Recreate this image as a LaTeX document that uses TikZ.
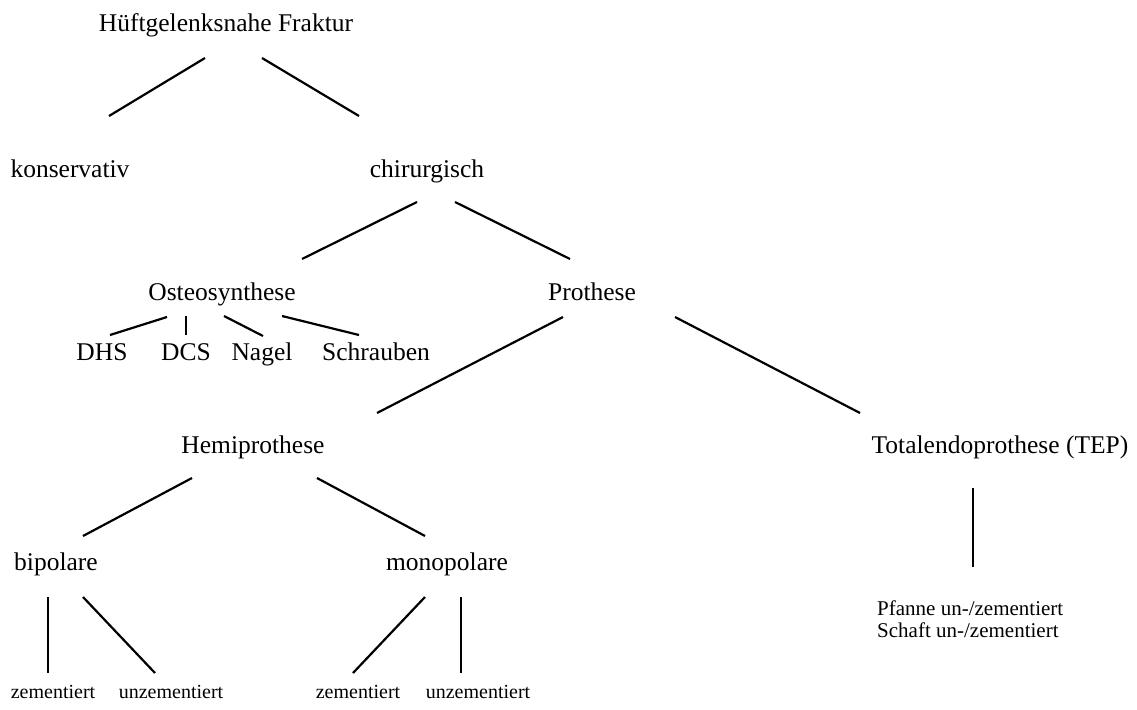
\documentclass[tikz,border=0pt]{standalone}
\usepackage{fontspec}
\setmainfont{Liberation Serif}
\begin{document}
\begin{tikzpicture}[x=1pt,y=-1pt,
  lbl/.style={anchor=base,inner sep=0pt,font=\fontsize{25.5}{30}\selectfont},
  small/.style={anchor=base,inner sep=0pt,font=\fontsize{#1}{24}\selectfont},
  small/.default=20,
  link/.style={line width=2.2pt}]
\useasboundingbox (0,0) rectangle (1137,709);
    % labels
    \node[lbl] (top)   at (226,32)  {Hüftgelenksnahe Fraktur};
    \node[lbl] (kons)  at (70,177)  {konservativ};
    \node[lbl] (chir)  at (427,177) {chirurgisch};
    \node[lbl] (osteo) at (222,300) {Osteosynthese};
    \node[lbl] (proth) at (592,300) {Prothese};
    \node[lbl] (dhs)   at (102,360) {DHS};
    \node[lbl] (dcs)   at (186,360) {DCS};
    \node[lbl] (nagel) at (262,360) {Nagel};
    \node[lbl] (schr)  at (376,360) {Schrauben};
    \node[lbl] (hemi)  at (253,453) {Hemiprothese};
    \node[lbl] (tep)   at (1000,453) {Totalendoprothese (TEP)};
    \node[lbl] (bipol) at (56,570)  {bipolare};
    \node[lbl] (mono)  at (447,570) {monopolare};
    \node[small=21,anchor=base west] (pfanne) at (877,615) {Pfanne un-/zementiert};
    \node[small=21,anchor=base west] (schaft) at (877,637) {Schaft un-/zementiert};
    \node[small] (zemA)   at (53,698)  {zementiert};
    \node[small] (unzemA) at (171,698) {unzementiert};
    \node[small] (zemB)   at (358,698) {zementiert};
    \node[small] (unzemB) at (478,698) {unzementiert};
    % lines
    \draw[link] ([shift={(-21,26)}]top.base) -- ([shift={(39,-61)}]kons.base);
    \draw[link] ([shift={(36,26)}]top.base) -- ([shift={(-68,-61)}]chir.base);
    \draw[link] ([shift={(-10,25)}]chir.base) -- ([shift={(80,-41)}]osteo.base);
    \draw[link] ([shift={(28,25)}]chir.base) -- ([shift={(-22,-41)}]proth.base);
    \draw[link] ([shift={(-55,17)}]osteo.base) -- ([shift={(8,-25)}]dhs.base);
    \draw[link] ([shift={(-36,16)}]osteo.base) -- ([shift={(0,-25)}]dcs.base);
    \draw[link] ([shift={(2,16)}]osteo.base) -- ([shift={(1,-24)}]nagel.base);
    \draw[link] ([shift={(60,16)}]osteo.base) -- ([shift={(-17,-25)}]schr.base);
    \draw[link] ([shift={(-29,17)}]proth.base) -- ([shift={(124,-40)}]hemi.base);
    \draw[link] ([shift={(83,17)}]proth.base) -- ([shift={(-140,-40)}]tep.base);
    \draw[link] ([shift={(-61,25)}]hemi.base) -- ([shift={(27,-34)}]bipol.base);
    \draw[link] ([shift={(64,25)}]hemi.base) -- ([shift={(-22,-34)}]mono.base);
    \draw[link] ([shift={(-27,35)}]tep.base) -- ([shift={(96,-48)}]pfanne.base west);
    \draw[link] ([shift={(-8,27)}]bipol.base) -- ([shift={(-5,-25)}]zemA.base);
    \draw[link] ([shift={(27,27)}]bipol.base) -- ([shift={(-16,-25)}]unzemA.base);
    \draw[link] ([shift={(-22,27)}]mono.base) -- ([shift={(-5,-25)}]zemB.base);
    \draw[link] ([shift={(14,27)}]mono.base) -- ([shift={(-17,-25)}]unzemB.base);
\end{tikzpicture}
\end{document}
